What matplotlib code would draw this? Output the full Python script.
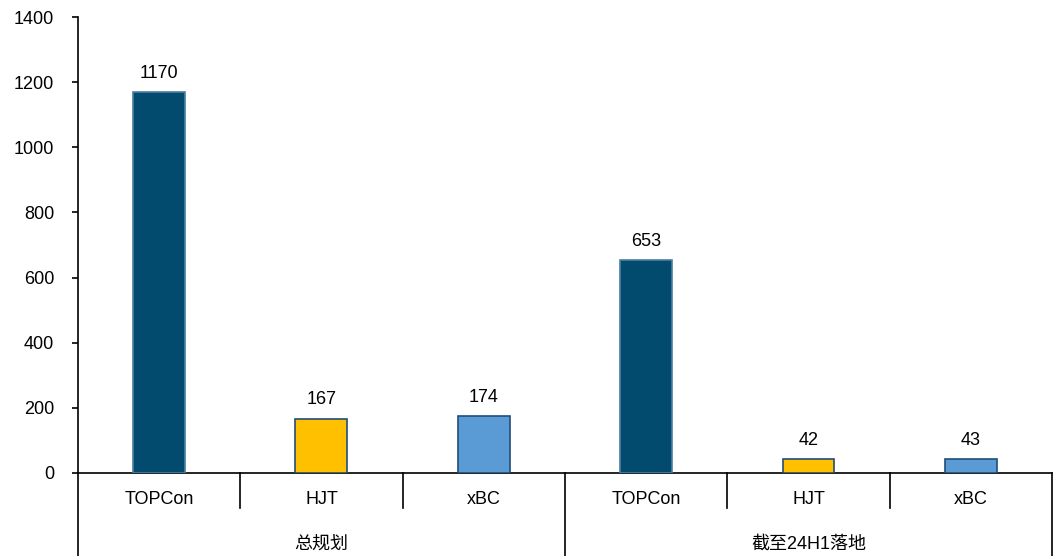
import numpy as np
import matplotlib.pyplot as plt

plt.rcParams['font.family'] = ['Liberation Sans', 'Noto Sans CJK SC', 'DejaVu Sans']

groups = ["总规划", "截至24H1落地"]
techs = ["TOPCon", "HJT", "xBC"]
values = [1170, 167, 174, 653, 42, 43]
colors = ["#024A6E", "#FFC000", "#5B9BD5"]
edges = ["#4A7FA0", "#1F4E79", "#1F4E79"]

fig = plt.figure(figsize=(10.62, 5.56), dpi=100)
ax = fig.add_axes([0.0734, 0.1493, 0.9172, 0.8201])

x = np.arange(len(values))
bar_colors = colors * len(groups)
bar_edges = edges * len(groups)
ax.bar(x, values, width=0.32, color=bar_colors, edgecolor=bar_edges, linewidth=1.2, zorder=3)

for xi, v in zip(x, values):
    ax.annotate(str(v), (xi, v), xytext=(0, 7.5), textcoords="offset points",
                ha="center", va="bottom", fontsize=13)

ax.set_xlim(-0.5, len(values) - 0.5)
ax.set_ylim(0, 1400)
ax.set_yticks(range(0, 1401, 200))
ax.tick_params(axis="y", labelsize=13, direction="out", length=4, width=1.2, pad=13)
ax.set_xticks([])

for s in ["top", "right"]:
    ax.spines[s].set_visible(False)
ax.spines["left"].set_linewidth(1.2)
ax.spines["bottom"].set_linewidth(1.2)

n = len(values)
# separators under the axis
for i in range(n + 1):
    xa = i / n
    y0 = -0.205 if i % 3 == 0 else -0.077
    ax.plot([xa, xa], [0, y0], transform=ax.transAxes, color="black", lw=1.2, clip_on=False)

for i in range(n):
    ax.text((i + 0.5) / n, -0.059, techs[i % 3], transform=ax.transAxes,
            ha="center", va="center", fontsize=13)

for g, name in enumerate(groups):
    ax.text((g * 3 + 1.5) / n, -0.156, name, transform=ax.transAxes,
            ha="center", va="center", fontsize=13)

fig.savefig("out.png", dpi=100)
